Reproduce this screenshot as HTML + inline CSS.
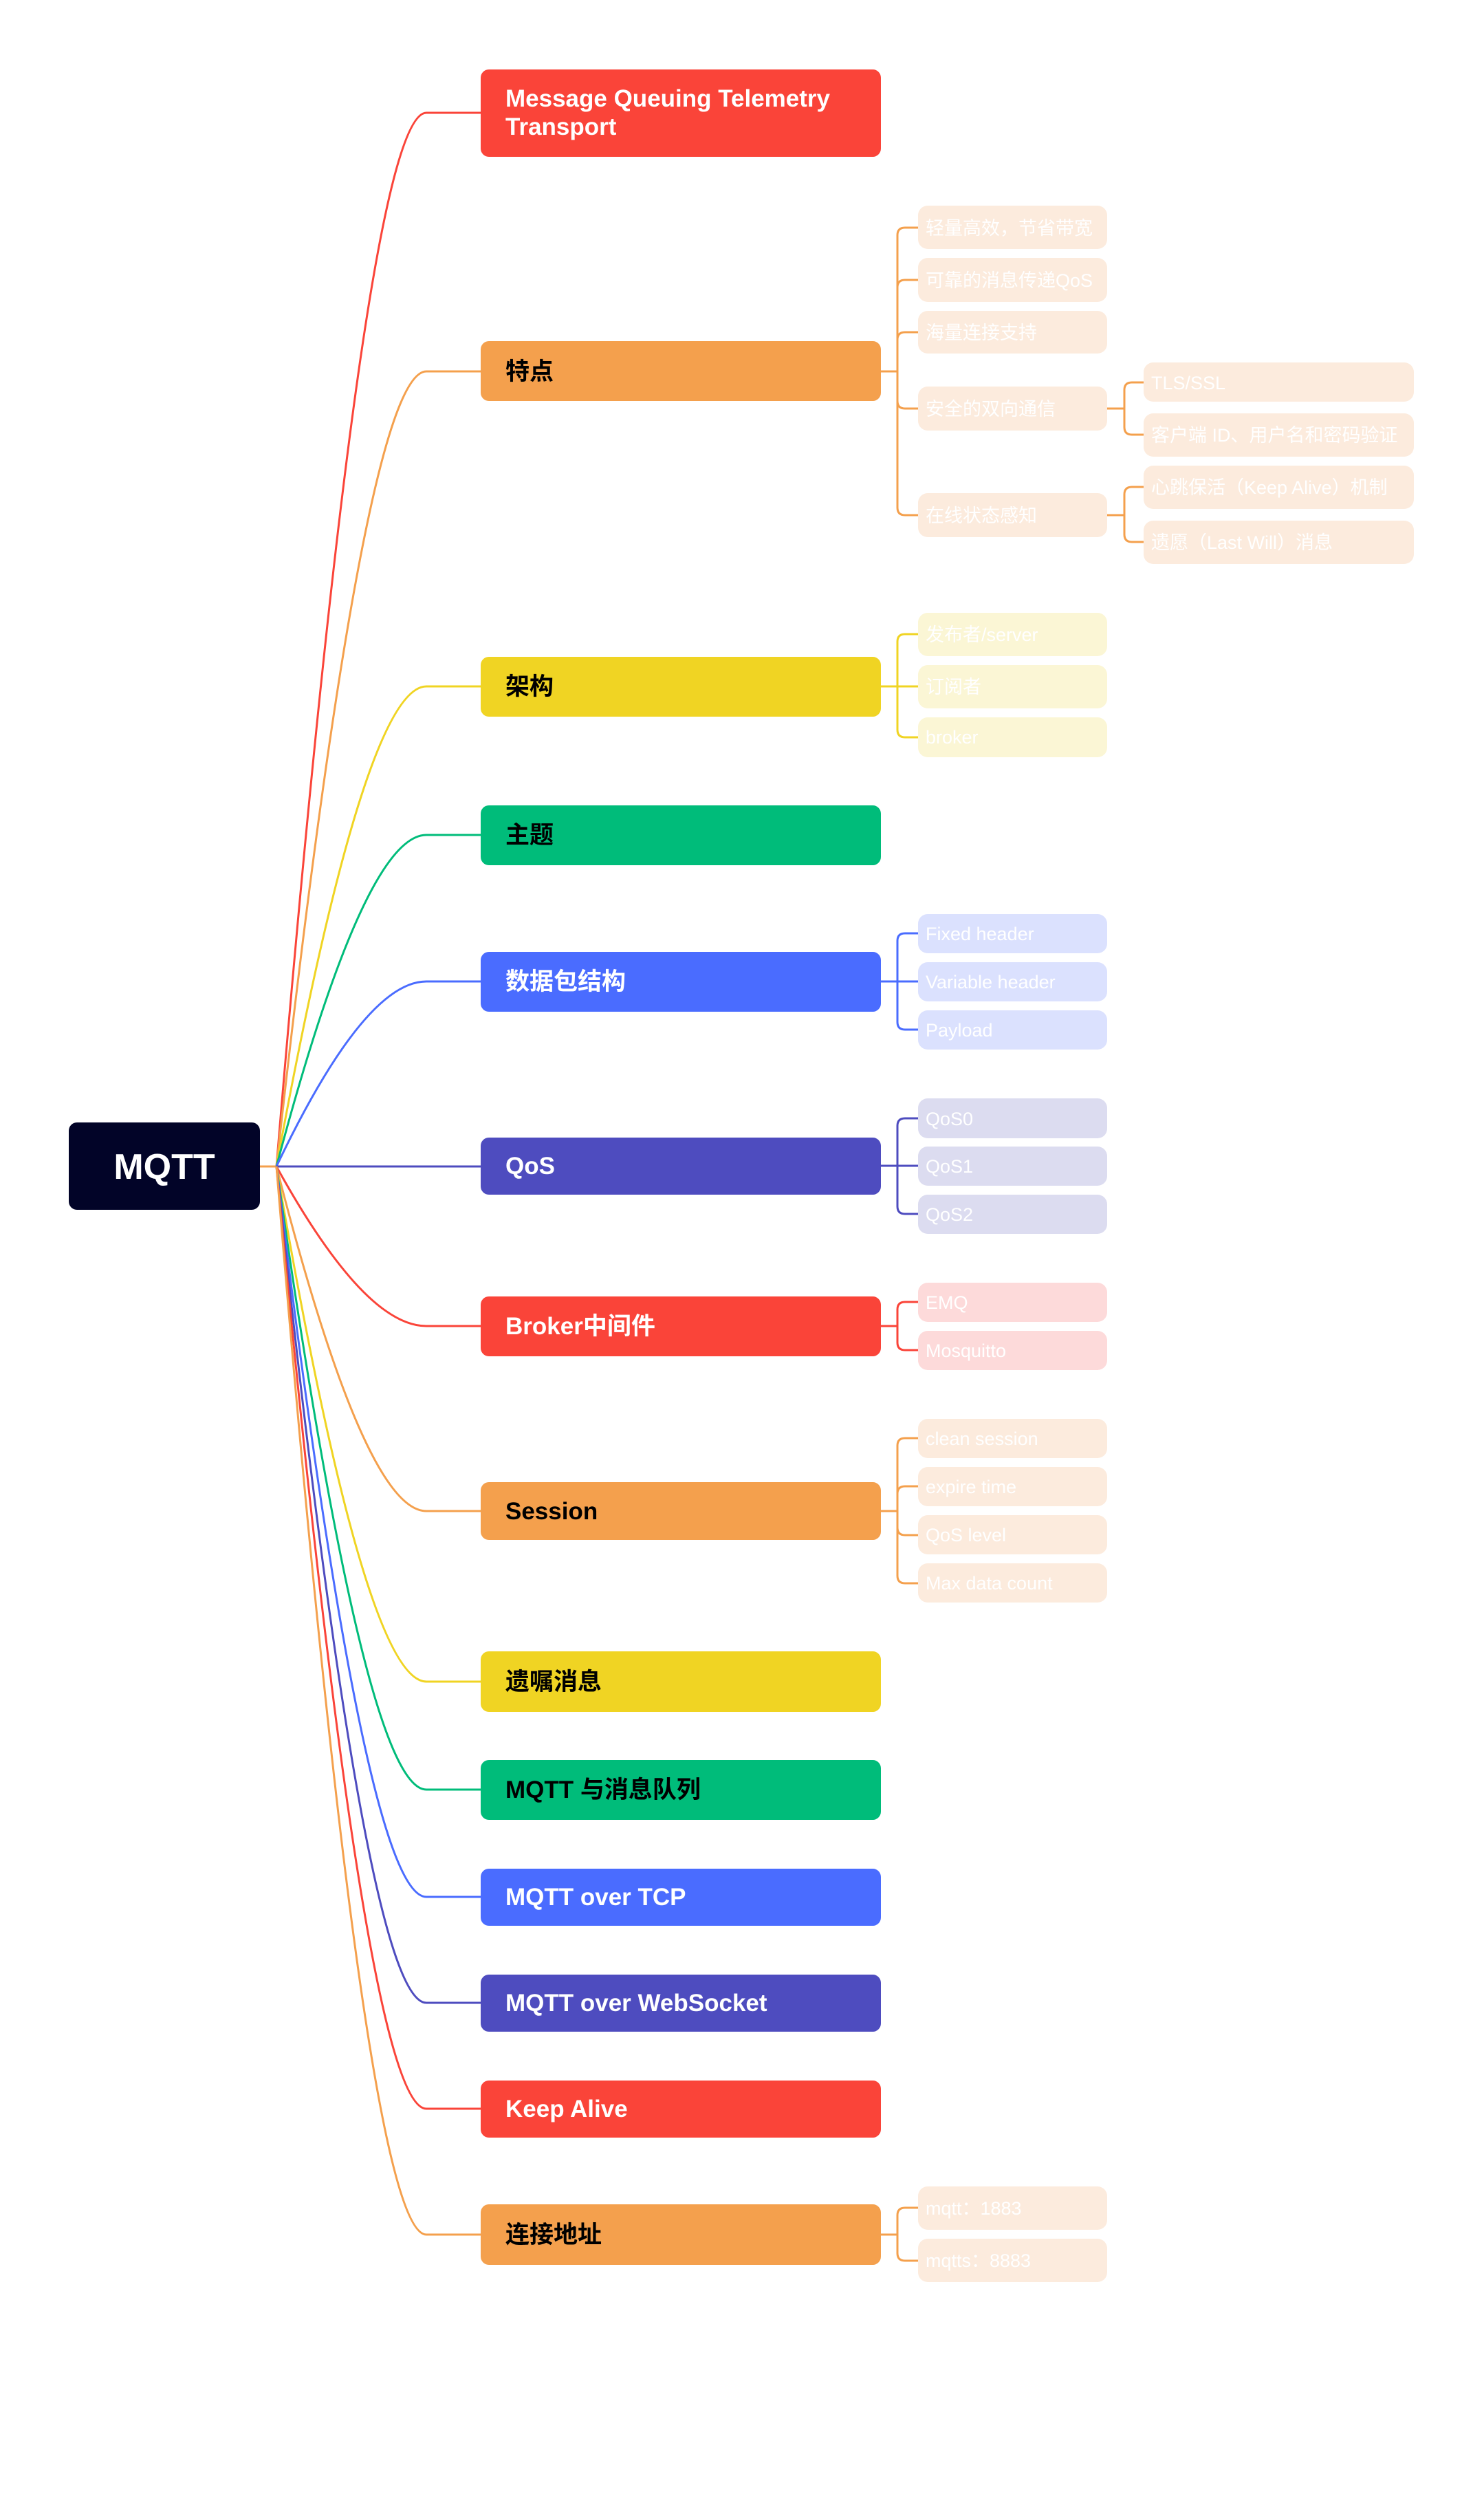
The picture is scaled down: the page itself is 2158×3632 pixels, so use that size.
<!DOCTYPE html>
<html><head><meta charset="utf-8"><style>
html,body{margin:0;padding:0;background:#fff;}
svg{display:block;}
text{font-family:"Liberation Sans","Noto Sans CJK SC",sans-serif;}
.m{font-size:35px;font-weight:bold;}
.c{font-size:27px;fill:#fff;}
</style></head><body>
<svg width="2158" height="3632" viewBox="0 0 2158 3632" xmlns="http://www.w3.org/2000/svg">
<g fill="none" stroke-width="3">
<path d="M378,1696 H402" stroke="#F4A04D"/>
<path d="M402,1696 Q530,164 620,164 H699" stroke="#FA4439"/>
<path d="M402,1696 Q530,540 620,540 H699" stroke="#F4A04D"/>
<path d="M402,1696 Q530,998 620,998 H699" stroke="#F0D423"/>
<path d="M402,1696 Q530,1214 620,1214 H699" stroke="#00BC7A"/>
<path d="M402,1696 Q530,1427 620,1427 H699" stroke="#4A6CFF"/>
<path d="M402,1696 H699" stroke="#4E4CBF"/>
<path d="M402,1696 Q530,1928 620,1928 H699" stroke="#FA4439"/>
<path d="M402,1696 Q530,2197 620,2197 H699" stroke="#F4A04D"/>
<path d="M402,1696 Q530,2445 620,2445 H699" stroke="#F0D423"/>
<path d="M402,1696 Q530,2602 620,2602 H699" stroke="#00BC7A"/>
<path d="M402,1696 Q530,2758 620,2758 H699" stroke="#4A6CFF"/>
<path d="M402,1696 Q530,2912 620,2912 H699" stroke="#4E4CBF"/>
<path d="M402,1696 Q530,3066 620,3066 H699" stroke="#FA4439"/>
<path d="M402,1696 Q530,3249 620,3249 H699" stroke="#F4A04D"/>

<!-- 特点 children -->
<g stroke="#F4A04D">
<path d="M1281,540 H1305"/>
<path d="M1305,540 V342 Q1305,331 1316,331 H1335"/>
<path d="M1305,540 V418 Q1305,407 1316,407 H1335"/>
<path d="M1305,540 V494 Q1305,483 1316,483 H1335"/>
<path d="M1305,540 V583 Q1305,594 1316,594 H1335"/>
<path d="M1305,540 V738 Q1305,749 1316,749 H1335"/>
<path d="M1610,594 H1635"/>
<path d="M1635,594 V567 Q1635,556 1646,556 H1663"/>
<path d="M1635,594 V621 Q1635,632 1646,632 H1663"/>
<path d="M1610,749 H1635"/>
<path d="M1635,749 V719 Q1635,708 1646,708 H1663"/>
<path d="M1635,749 V777 Q1635,788 1646,788 H1663"/>
</g>
<g stroke="#F0D423">
<path d="M1281,998 H1335"/>
<path d="M1305,998 V933 Q1305,922 1316,922 H1335"/>
<path d="M1305,998 V1061 Q1305,1072 1316,1072 H1335"/>
</g>
<g stroke="#4A6CFF">
<path d="M1281,1427 H1335"/>
<path d="M1305,1427 V1368 Q1305,1357 1316,1357 H1335"/>
<path d="M1305,1427 V1486 Q1305,1497 1316,1497 H1335"/>
</g>
<g stroke="#4E4CBF">
<path d="M1281,1695 H1335"/>
<path d="M1305,1695 V1637 Q1305,1626 1316,1626 H1335"/>
<path d="M1305,1695 V1754 Q1305,1765 1316,1765 H1335"/>
</g>
<g stroke="#FA4439">
<path d="M1281,1928 H1305"/>
<path d="M1305,1928 V1904 Q1305,1893 1316,1893 H1335"/>
<path d="M1305,1928 V1952 Q1305,1963 1316,1963 H1335"/>
</g>
<g stroke="#F4A04D">
<path d="M1281,2197 H1305"/>
<path d="M1305,2197 V2102 Q1305,2091 1316,2091 H1335"/>
<path d="M1305,2197 V2172 Q1305,2161 1316,2161 H1335"/>
<path d="M1305,2197 V2221 Q1305,2232 1316,2232 H1335"/>
<path d="M1305,2197 V2291 Q1305,2302 1316,2302 H1335"/>
<path d="M1281,3249 H1305"/>
<path d="M1305,3249 V3221 Q1305,3210 1316,3210 H1335"/>
<path d="M1305,3249 V3276 Q1305,3287 1316,3287 H1335"/>
</g>
</g>

<!-- root -->
<rect x="100" y="1632" width="278" height="127" rx="12" fill="#020428"/>
<text x="239" y="1714" text-anchor="middle" font-size="52" font-weight="bold" fill="#fff">MQTT</text>

<!-- main nodes -->
<rect x="699" y="101" width="582" height="127" rx="12" fill="#FA4439"/>
<text class="m" x="735" y="155" fill="#fff">Message Queuing Telemetry</text>
<text class="m" x="735" y="196" fill="#fff">Transport</text>
<rect x="699" y="496" width="582" height="87" rx="12" fill="#F4A04D"/>
<text class="m" x="735" y="552" fill="#000">特点</text>
<rect x="699" y="955" width="582" height="87" rx="12" fill="#F0D423"/>
<text class="m" x="735" y="1010" fill="#000">架构</text>
<rect x="699" y="1171" width="582" height="87" rx="12" fill="#00BC7A"/>
<text class="m" x="735" y="1226" fill="#000">主题</text>
<rect x="699" y="1384" width="582" height="87" rx="12" fill="#4A6CFF"/>
<text class="m" x="735" y="1439" fill="#fff">数据包结构</text>
<rect x="699" y="1654" width="582" height="83" rx="12" fill="#4E4CBF"/>
<text class="m" x="735" y="1707" fill="#fff">QoS</text>
<rect x="699" y="1885" width="582" height="87" rx="12" fill="#FA4439"/>
<text class="m" x="735" y="1940" fill="#fff">Broker中间件</text>
<rect x="699" y="2155" width="582" height="84" rx="12" fill="#F4A04D"/>
<text class="m" x="735" y="2209" fill="#000">Session</text>
<rect x="699" y="2401" width="582" height="88" rx="12" fill="#F0D423"/>
<text class="m" x="735" y="2457" fill="#000">遗嘱消息</text>
<rect x="699" y="2559" width="582" height="87" rx="12" fill="#00BC7A"/>
<text class="m" x="735" y="2614" fill="#000">MQTT 与消息队列</text>
<rect x="699" y="2717" width="582" height="83" rx="12" fill="#4A6CFF"/>
<text class="m" x="735" y="2770" fill="#fff">MQTT over TCP</text>
<rect x="699" y="2871" width="582" height="83" rx="12" fill="#4E4CBF"/>
<text class="m" x="735" y="2924" fill="#fff">MQTT over WebSocket</text>
<rect x="699" y="3025" width="582" height="83" rx="12" fill="#FA4439"/>
<text class="m" x="735" y="3078" fill="#fff">Keep Alive</text>
<rect x="699" y="3205" width="582" height="88" rx="12" fill="#F4A04D"/>
<text class="m" x="735" y="3261" fill="#000">连接地址</text>

<!-- children -->
<g fill="#FCEBDD">
<rect x="1335" y="299" width="275" height="63" rx="14"/>
<rect x="1335" y="375" width="275" height="64" rx="14"/>
<rect x="1335" y="452" width="275" height="62" rx="14"/>
<rect x="1335" y="562" width="275" height="64" rx="14"/>
<rect x="1335" y="717" width="275" height="64" rx="14"/>
<rect x="1663" y="527" width="393" height="57" rx="14"/>
<rect x="1663" y="601" width="393" height="63" rx="14"/>
<rect x="1663" y="677" width="393" height="63" rx="14"/>
<rect x="1663" y="757" width="393" height="63" rx="14"/>
<rect x="1335" y="2063" width="275" height="57" rx="14"/>
<rect x="1335" y="2133" width="275" height="57" rx="14"/>
<rect x="1335" y="2203" width="275" height="57" rx="14"/>
<rect x="1335" y="2273" width="275" height="57" rx="14"/>
<rect x="1335" y="3179" width="275" height="63" rx="14"/>
<rect x="1335" y="3255" width="275" height="63" rx="14"/>
</g>
<g fill="#FBF6D5">
<rect x="1335" y="891" width="275" height="63" rx="14"/>
<rect x="1335" y="967" width="275" height="63" rx="14"/>
<rect x="1335" y="1043" width="275" height="58" rx="14"/>
</g>
<g fill="#DBE1FE">
<rect x="1335" y="1329" width="275" height="57" rx="14"/>
<rect x="1335" y="1399" width="275" height="57" rx="14"/>
<rect x="1335" y="1469" width="275" height="57" rx="14"/>
</g>
<g fill="#DCDCF0">
<rect x="1335" y="1597" width="275" height="58" rx="14"/>
<rect x="1335" y="1667" width="275" height="57" rx="14"/>
<rect x="1335" y="1737" width="275" height="57" rx="14"/>
</g>
<g fill="#FDDADA">
<rect x="1335" y="1865" width="275" height="57" rx="14"/>
<rect x="1335" y="1935" width="275" height="57" rx="14"/>
</g>

<g class="c">
<text class="c" x="1346" y="341">轻量高效，节省带宽</text>
<text class="c" x="1346" y="417">可靠的消息传递QoS</text>
<text class="c" x="1346" y="493">海量连接支持</text>
<text class="c" x="1346" y="604">安全的双向通信</text>
<text class="c" x="1346" y="759">在线状态感知</text>
<text class="c" x="1674" y="566">TLS/SSL</text>
<text class="c" x="1674" y="642">客户端 ID、用户名和密码验证</text>
<text class="c" x="1674" y="718">心跳保活（Keep Alive）机制</text>
<text class="c" x="1674" y="798">遗愿（Last Will）消息</text>
<text class="c" x="1346" y="932">发布者/server</text>
<text class="c" x="1346" y="1008">订阅者</text>
<text class="c" x="1346" y="1081">broker</text>
<text class="c" x="1346" y="1367">Fixed header</text>
<text class="c" x="1346" y="1437">Variable header</text>
<text class="c" x="1346" y="1507">Payload</text>
<text class="c" x="1346" y="1636">QoS0</text>
<text class="c" x="1346" y="1705">QoS1</text>
<text class="c" x="1346" y="1775">QoS2</text>
<text class="c" x="1346" y="1903">EMQ</text>
<text class="c" x="1346" y="1973">Mosquitto</text>
<text class="c" x="1346" y="2101">clean session</text>
<text class="c" x="1346" y="2171">expire time</text>
<text class="c" x="1346" y="2241">QoS level</text>
<text class="c" x="1346" y="2311">Max data count</text>
<text class="c" x="1346" y="3220">mqtt：1883</text>
<text class="c" x="1346" y="3296">mqtts：8883</text>
</g>
</svg>
</body></html>
